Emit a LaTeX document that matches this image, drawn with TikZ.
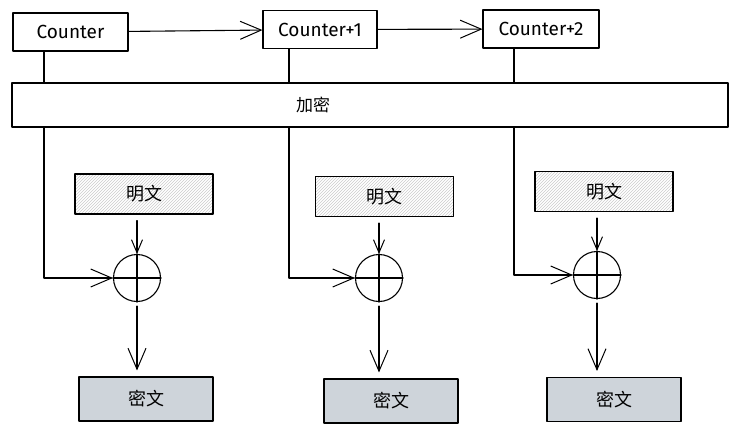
\documentclass[tikz,border=0pt]{standalone}
\usepackage{fontspec}
\setmainfont{Fira Sans}
\newfontfamily\cjk{Noto Sans CJK SC}
\usetikzlibrary{arrows.meta,patterns}
\definecolor{cipherfill}{HTML}{CED4DA}
\begin{document}
\begin{tikzpicture}[x=1pt, y=-1pt, line join=round, line cap=round, line width=1.1pt,
		font=\fontsize{19}{22}\selectfont,
		arr/.style={-{Straight Barb[length=21pt,width=18pt,line width=1pt]}},
		sarr/.style={-{Straight Barb[length=13pt,width=11pt,line width=1pt]}},
		ctrbox/.style={draw, minimum height=38pt, inner xsep=2pt},
		plainbox/.style={draw, pattern=north east lines, pattern color=gray!40, minimum width=138pt, minimum height=40pt, font=\cjk\fontsize{18}{20}\selectfont},
		cipherbox/.style={draw, fill=cipherfill, minimum width=134pt, minimum height=44pt, font=\cjk\fontsize{18}{20}\selectfont},
		xorsym/.style={draw, circle, minimum size=47pt, inner sep=0pt}]
	\useasboundingbox (0,0) rectangle (736,433);
	% Zähler
	\node[ctrbox, minimum width=115pt] (cnt0) at (70.5,32) {Counter};
	\node[ctrbox, minimum width=114pt] (cnt1) at (320,29.5) {Counter+1};
	\node[ctrbox, minimum width=116pt] (cnt2) at (541,29) {Counter+2};
	\node[draw, minimum width=716pt, minimum height=44pt] (enc) at (370,105) {};
	\node[font=\cjk\fontsize{17}{20}\selectfont] (enclbl) at (313,105) {加密};
	\coordinate (k1) at (44,0); \coordinate (k2) at (289,0); \coordinate (k3) at (514,0);
	% Klartext, XOR, Geheimtext
	\node[plainbox] (p1) at (144,194) {明文};
	\node[plainbox] (p2) at (384.5,196.5) {明文};
	\node[plainbox] (p3) at (604,191.5) {明文};
	\node[xorsym] (x1) at (137,278) {};
	\node[xorsym] (x2) at (379,278) {};
	\node[xorsym] (x3) at (597,275) {};
	\node[cipherbox] (c1) at (146,399) {密文};
	\node[cipherbox] (c2) at (391,401) {密文};
	\node[cipherbox] (c3) at (614,399.5) {密文};
	\draw[arr] (cnt0) -- (cnt1);
	\draw[arr] (cnt1) -- (cnt2);
	\foreach \i in {1,2,3}{
		\pgfmathtruncatemacro{\j}{\i-1}
		\draw (cnt\j.south -| k\i) -- (enc.north -| k\i);
		\draw[arr] (enc.south -| k\i) |- (x\i.west);
		\draw (x\i.north) -- (x\i.south) (x\i.west) -- (x\i.east);
		\draw[sarr, shorten <=6pt] (p\i.south -| x\i) -- (x\i.north);
		\draw[arr, shorten <=4pt, shorten >=6pt] (x\i.south) -- (c\i.north -| x\i);
	}
\end{tikzpicture}
\end{document}
